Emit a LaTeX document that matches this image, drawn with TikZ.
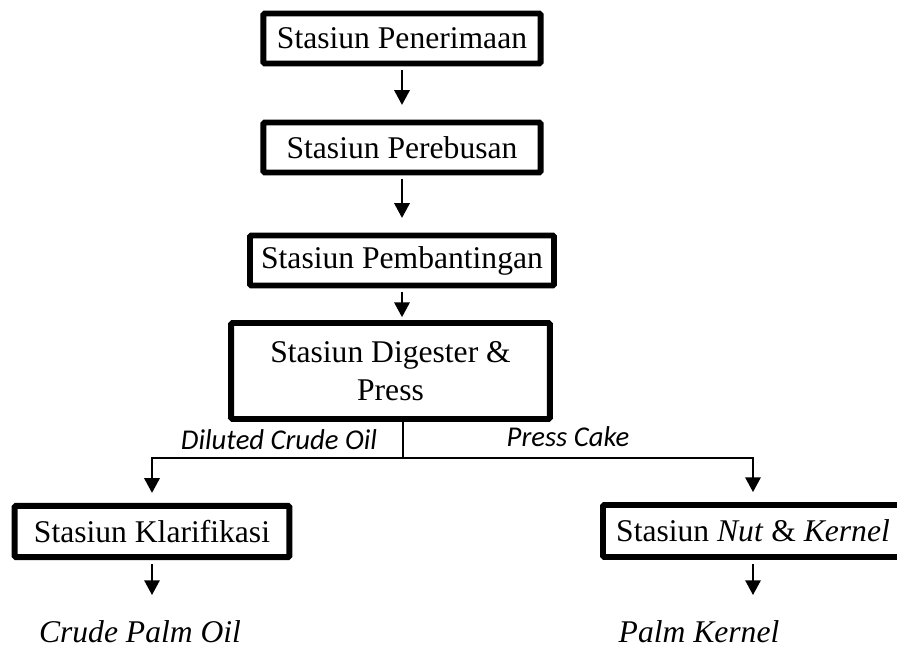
\documentclass[tikz,border=0pt]{standalone}
\usepackage{fontspec}
\setmainfont{Liberation Serif}
\newfontfamily\labelfont{Carlito}
\usetikzlibrary{arrows.meta}

\tikzset{
  station/.style={draw, line width=4.4pt, rounded corners=1pt, inner sep=0pt,
    minimum height=37.5pt, align=center, font=\fontsize{23.7}{28.5}\selectfont},
  flow/.style={-{Triangle[width=11.5pt,length=11pt]}, line width=1.4pt},
  branchlabel/.style={inner sep=0pt, font=\labelfont\itshape\fontsize{21.5}{26}\selectfont},
  product/.style={inner sep=0pt, font=\itshape\fontsize{23.7}{28.5}\selectfont}
}

\begin{document}
\begin{tikzpicture}[x=0.75pt,y=-0.75pt]
        \useasboundingbox (0,0) rectangle (897,657);
        % stations
        \node[station, minimum width=208pt] (penerimaan) at (402,38.5) {Stasiun Penerimaan};
        \node[station, minimum width=208pt] (perebusan) at (402,147.5) {Stasiun Perebusan};
        \node[station, minimum width=228pt] (pembantingan) at (402,260.5) {Stasiun Pembantingan};
        \node[station, minimum width=239pt, minimum height=72pt] (digester) at (390.5,371) {Stasiun Digester \&\\Press};
        \node[station, minimum width=206pt, minimum height=38.5pt] (klarifikasi) at (152,531.5) {Stasiun Klarifikasi};
        \node[station, minimum width=225pt, minimum height=39pt] (nutkernel) at (753,531) {Stasiun \textit{Nut} \& \textit{Kernel}};
        % products
        \node[product] (cpo) at (140,632) {Crude Palm Oil};
        \node[product] (pk) at (699,632) {Palm Kernel};
        \coordinate (cpoin) at (152,595);
        \coordinate (pkin) at (753,595);
        % main line
        \draw[flow, shorten <=3pt, shorten >=11pt] (penerimaan) -- (perebusan);
        \draw[flow, shorten <=3pt, shorten >=11pt] (perebusan) -- (pembantingan);
        \draw[flow, shorten <=3pt, shorten >=2.2pt] (pembantingan.south) -- (pembantingan.south |- digester.north);
        % split
        \coordinate (split) at (403,458);
        \draw[line width=1.4pt] (digester.south -| split) -- (split);
        \draw[flow, shorten >=7.5pt] (split) -| (klarifikasi);
        \draw[flow, shorten >=7.5pt] (split) -| (nutkernel);
        \node[branchlabel] (dco) at (279,440) {Diluted Crude Oil};
        \node[branchlabel] (cake) at (568,437) {Press Cake};
        % outputs
        \draw[flow, shorten <=3pt] (klarifikasi) -- (cpoin);
        \draw[flow, shorten <=3pt] (nutkernel) -- (pkin);
    \end{tikzpicture}
\end{document}
